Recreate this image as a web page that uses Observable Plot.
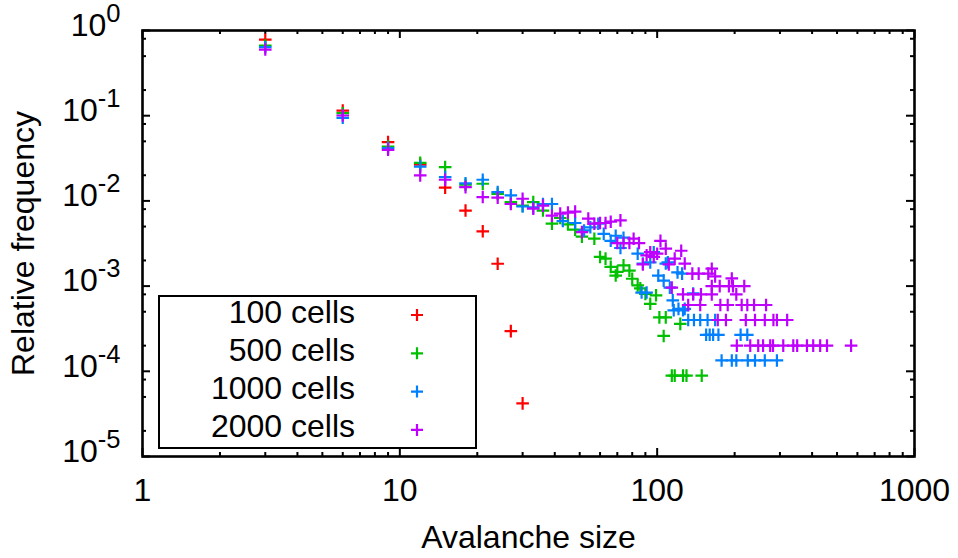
<!DOCTYPE html>
<html>
<head>
<meta charset="utf-8">
<script src="https://cdn.jsdelivr.net/npm/d3@7"></script>
<script src="https://cdn.jsdelivr.net/npm/@observablehq/plot@0.6"></script>
<style>
  html, body { margin: 0; padding: 0; background: #fff; }
  #chart { width: 958px; height: 558px; }
</style>
</head>
<body>
<div id="chart"></div>
<script>
// ---- data ----
const seriesNames = ["100 cells", "500 cells", "1000 cells", "2000 cells"];
const seriesColors = ["#ff0000", "#00c000", "#0080ff", "#c000ff"];

const sizes100 = [3,6,9,12,15,18,21,24,27,30];
const freq100  = [0.78,0.115,0.0489,0.0267,0.0143,0.0077,0.0044,0.00183,0.000296,0.000042];

const sizes500 = [3,6,9,12,15,18,21,24,27,30, 33,36,39,42,45,48,51,57,60,63,
                  66,69,70,74,78,80,84,86,90,94, 99,102,106,108,114,117,123,126,130,149];
const freq500  = [0.667,0.107,0.0435,0.028,0.0249,0.0155,0.0159,0.0121,0.0097,0.0088,
                  0.0097,0.0077,0.0054,0.0063,0.0053,0.0046,0.0038,0.0036,0.0022,0.0021,
                  0.00168,0.00133,0.00147,0.00175,0.00152,0.00122,0.00102,0.00094,0.00081,0.00062,
                  0.00078,0.00043,0.00026,0.00043,0.000089,0.000089,0.00036,0.000089,0.000089,0.000089];

const sizes1000 = [3,6,9,12,15,18,21,24,27,30, 33,36,39,43,48,52,55,59,62,66,
                   69,72,74,84,87,88,91,94,97,101, 106,108,110,112,115,116,120,121,125,126,
                   128,132,138,139,147,157,168,155,160,165, 173,211,224,178,195,203,225,240,262,292];
const freq1000  = [0.637,0.0945,0.0416,0.0253,0.019,0.0161,0.0177,0.0127,0.0116,0.0086,
                   0.0084,0.0092,0.0092,0.0058,0.0055,0.0045,0.0049,0.0054,0.0041,0.0034,
                   0.0039,0.0028,0.0037,0.0024,0.00084,0.00184,0.00084,0.0019,0.0025,0.00133,
                   0.00116,0.00184,0.0019,0.00096,0.00068,0.00052,0.00145,0.00054,0.0014,0.00052,
                   0.00054,0.0004,0.00082,0.0004,0.0004,0.0004,0.0004,0.000268,0.000268,0.000268,
                   0.000268,0.000268,0.000268,0.000134,0.000134,0.000134,0.000134,0.000134,0.000134,0.000134];

const sizes2000 = [3,6,9,12,15,18,21,24,27,30, 33,36,39,42,45,48,51,54,57,60,
                   63,66,70,72,74,78,81,85,88,91, 94,97,100,103,108,111,114,117,124,126,
                   128,132,137,138,145,147,148,158,163,163, 163,168,172,175,176,185,188,190,195,197,
                   203,213,218,221,224,238,240,262,265,283, 292,320,204,230,247,258,275,282,309,338,
                   350,382,404,430,457,567];
const freq2000  = [0.598,0.1005,0.0398,0.0199,0.0177,0.0145,0.0111,0.0109,0.0092,0.0106,
                   0.0081,0.0088,0.0067,0.0071,0.0073,0.0075,0.0043,0.0062,0.0054,0.0055,
                   0.0055,0.0057,0.0032,0.0059,0.0032,0.0032,0.0036,0.0032,0.0018,0.0023,
                   0.0025,0.0022,0.0024,0.0034,0.00275,0.0018,0.00096,0.0021,0.0026,0.0008,
                   0.00184,0.0006,0.0014,0.0008,0.0014,0.0006,0.0008,0.0014,0.0016,0.001,
                   0.0008,0.0013,0.0004,0.001,0.0006,0.0004,0.0006,0.001,0.00123,0.001,
                   0.0008,0.0006,0.001,0.0004,0.0006,0.0006,0.0004,0.0004,0.0006,0.0004,
                   0.0004,0.0004,0.0002,0.0002,0.0002,0.0002,0.0002,0.0002,0.0002,0.0002,
                   0.0002,0.0002,0.0002,0.0002,0.0002,0.0002];

const xMajorTicks = [1, 10, 100, 1000];
const xMinorTicks = [2,3,4,5,6,7,8,9, 20,30,40,50,60,70,80,90, 200,300,400,500,600,700,800,900];
const yMajorTicks = [1e-5, 1e-4, 1e-3, 1e-2, 1e-1, 1];
const yMinorTicks = [2e-5,5e-5,8e-5, 2e-4,5e-4,8e-4, 2e-3,5e-3,8e-3, 2e-2,5e-2,8e-2, 2e-1,5e-1,8e-1];

// ---- build tables ----
const allSizes = [sizes100, sizes500, sizes1000, sizes2000];
const allFreqs = [freq100, freq500, freq1000, freq2000];
const tables = allSizes.map((xs, i) => xs.map((x, j) => ({series: seriesNames[i], size: x, freq: allFreqs[i][j]})));

// ---- layout ----
const W = 958, H = 558, mL = 142, mR = 44, mT = 30, mB = 102;
const frameW = W - mL - mR, frameH = H - mT - mB;
const majorLen = 8, minorLen = 4;
const FONT = '"Liberation Sans", Arial, Helvetica, sans-serif';
const FS = 32;

// gnuplot-like "+" point
const plusSymbol = {
  draw(ctx, size) {
    const r = Math.sqrt(size / Math.PI);
    ctx.moveTo(-r, 0); ctx.lineTo(r, 0);
    ctx.moveTo(0, -r); ctx.lineTo(0, r);
  }
};

const tickStyle = {stroke: "#000", strokeWidth: 2};

const chart = Plot.plot({
  width: W, height: H,
  marginLeft: mL, marginRight: mR, marginTop: mT, marginBottom: mB,
  style: {fontFamily: FONT, background: "#fff", color: "#000", overflow: "visible"},
  x: {type: "log", domain: [1, 1000]},
  y: {type: "log", domain: [1e-5, 1]},
  marks: [
    // inward ticks on all four sides
    Plot.ruleX(xMajorTicks, {x: d => d, insetTop: frameH - majorLen, ...tickStyle}),
    Plot.ruleX(xMajorTicks, {x: d => d, insetBottom: frameH - majorLen, ...tickStyle}),
    Plot.ruleX(xMinorTicks, {x: d => d, insetTop: frameH - minorLen, ...tickStyle}),
    Plot.ruleX(xMinorTicks, {x: d => d, insetBottom: frameH - minorLen, ...tickStyle}),
    Plot.ruleY(yMajorTicks, {y: d => d, insetRight: frameW - majorLen, ...tickStyle}),
    Plot.ruleY(yMajorTicks, {y: d => d, insetLeft: frameW - majorLen, ...tickStyle}),
    Plot.ruleY(yMinorTicks, {y: d => d, insetRight: frameW - minorLen, ...tickStyle}),
    Plot.ruleY(yMinorTicks, {y: d => d, insetLeft: frameW - minorLen, ...tickStyle}),
    Plot.frame({stroke: "#000", strokeWidth: 2.6}),
    Plot.axisX({
      ticks: xMajorTicks, tickSize: 0, tickPadding: 22, fontSize: FS,
      tickFormat: d => String(d),
      label: "Avalanche size", labelAnchor: "center", labelArrow: "none", labelOffset: 91
    }),
    Plot.axisY({
      ticks: yMajorTicks, tickSize: 0, tickPadding: 22, fontSize: FS, dy: -5,
      tickFormat: d => "10^" + Math.round(Math.log10(d)),
      label: "Relative frequency", labelAnchor: "center", labelArrow: "none", labelOffset: 131
    }),
    ...tables.map((t, i) => Plot.dot(t, {
      x: "size", y: "freq", symbol: plusSymbol, r: 6.3,
      stroke: seriesColors[i], strokeWidth: 2.2, fill: "none"
    }))
  ]
});

// superscript exponents on the y tick labels
d3.select(chart).selectAll('g[aria-label="y-axis tick label"] text').each(function() {
  const s = this.textContent;
  const parts = s.split("^");
  if (parts.length !== 2) return;
  const t = d3.select(this);
  t.text(null);
  t.append("tspan").text(parts[0]);
  t.append("tspan").attr("dy", -14).attr("font-size", "0.8em").text(parts[1]);
});

// key box
const svg = d3.select(chart);
const key = svg.append("g").attr("aria-label", "legend")
  .attr("font-family", FONT).attr("font-size", FS);
key.append("rect")
  .attr("x", 159).attr("y", 296).attr("width", 317).attr("height", 152)
  .attr("fill", "none").attr("stroke", "#000").attr("stroke-width", 2);
seriesNames.forEach((name, i) => {
  key.append("text")
    .attr("x", 355).attr("y", 323 + 38 * i)
    .attr("text-anchor", "end").attr("fill", "#000")
    .text(name);
  const cx = 417, cy = 315 + 38.3 * i, r = 6;
  key.append("path")
    .attr("d", `M${cx - r},${cy}H${cx + r}M${cx},${cy - r}V${cy + r}`)
    .attr("stroke", seriesColors[i]).attr("stroke-width", 2.2).attr("fill", "none");
});

document.getElementById("chart").appendChild(chart);
</script>
</body>
</html>
